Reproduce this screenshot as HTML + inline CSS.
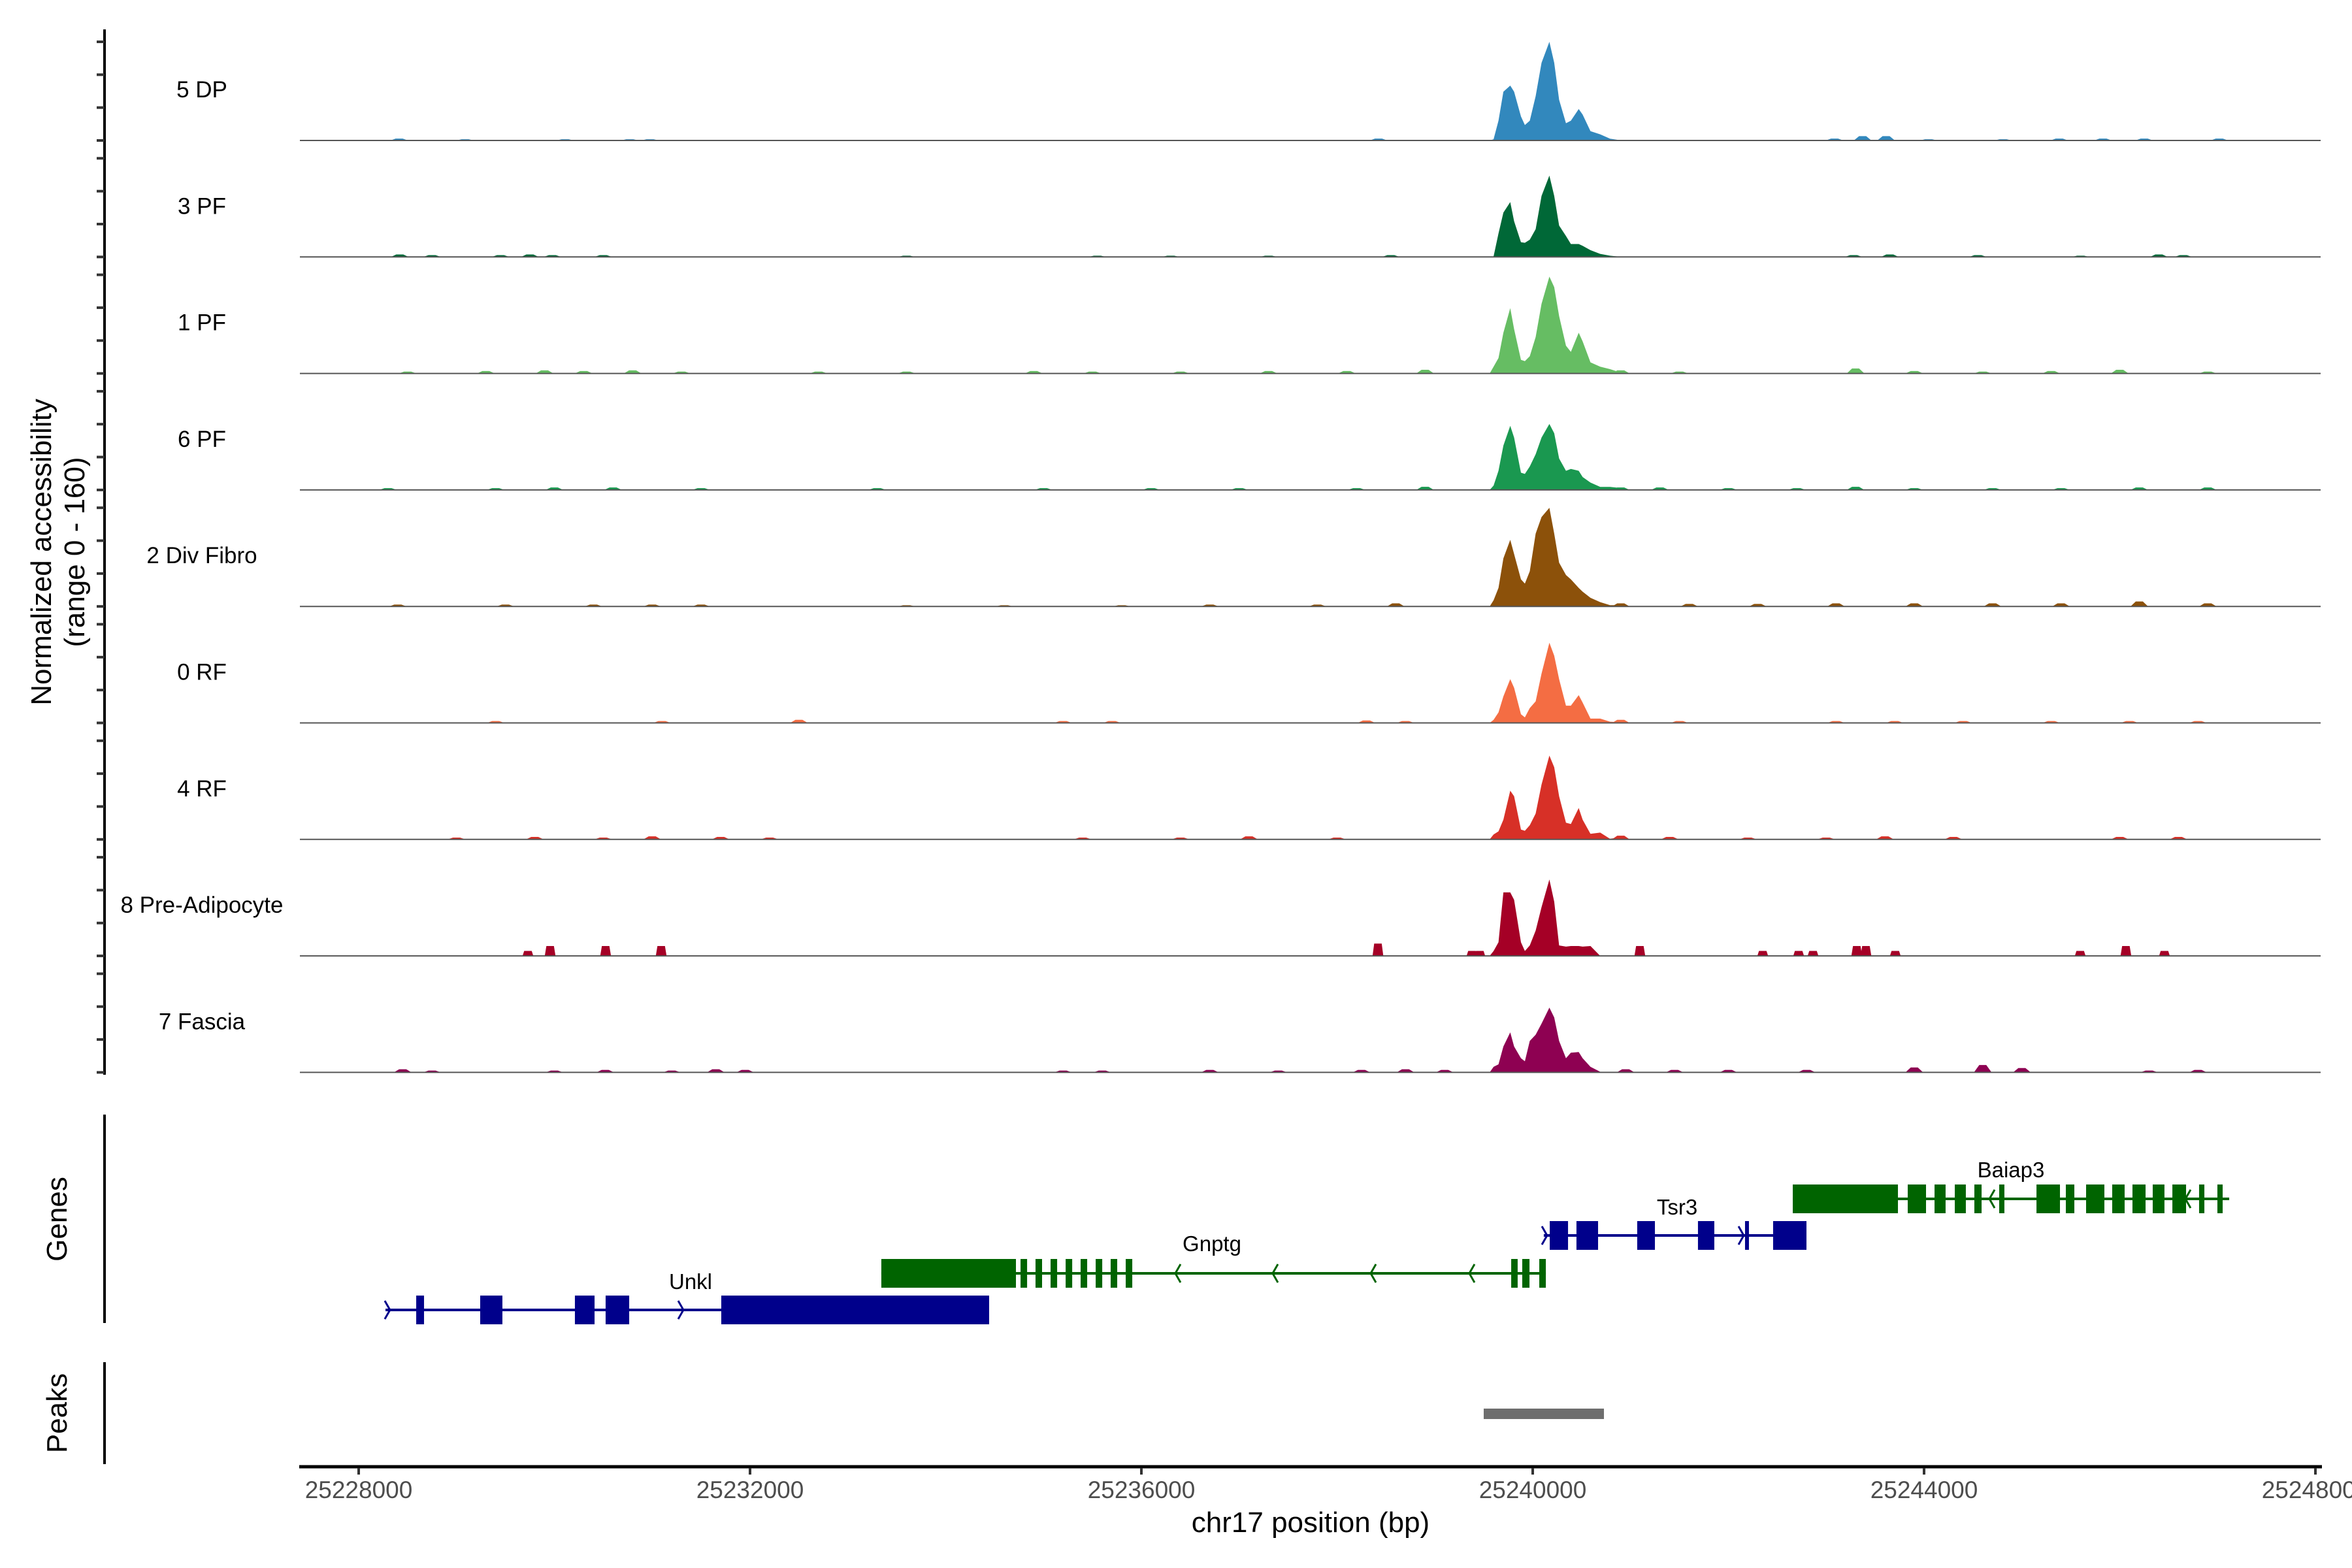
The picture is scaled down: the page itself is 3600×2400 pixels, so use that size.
<!DOCTYPE html>
<html><head><meta charset="utf-8"><style>
html,body{margin:0;padding:0;background:#fff;}
svg{display:block;font-family:"Liberation Sans",Arial,sans-serif;}
</style></head><body>
<svg id="chart" width="3600" height="2400" viewBox="0 0 3600 2400" xmlns="http://www.w3.org/2000/svg">
<rect width="3600" height="2400" fill="#fff"/>
<g id="tracks"></g>
<g id="genes"></g>
<g id="peaks"></g>
<g id="axes"></g>
<text transform="translate(78,845) rotate(-90)" text-anchor="middle" font-size="44" fill="#000">Normalized accessibility</text>
<text transform="translate(129,845) rotate(-90)" text-anchor="middle" font-size="44" fill="#000">(range 0 - 160)</text>
<text transform="translate(102,1866) rotate(-90)" text-anchor="middle" font-size="44" fill="#000">Genes</text>
<text transform="translate(102,2163) rotate(-90)" text-anchor="middle" font-size="44" fill="#000">Peaks</text>
<text x="2006" y="2345" text-anchor="middle" font-size="44" fill="#000">chr17 position (bp)</text>
</svg>
<script>
// ---- data ----
const trackNames = ["5 DP","3 PF","1 PF","6 PF","2 Div Fibro","0 RF","4 RF","8 Pre-Adipocyte","7 Fascia"];
const trackColors = ["#3288BD","#006837","#66BD63","#1A9850","#8C510A","#F46D43","#D73027","#A50026","#8E0152"];
const peakBp = [25239600,25239650,25239700,25239770,25239810,25239880,25239920,25239970,25240030,25240090,25240170,25240220,25240270,25240340,25240390,25240470,25240510,25240590,25240690,25240790,25240910];
const covDP5 = [2,32,79,89,79,39,25,32,72,126,160,126,66,28,32,51,42,15,10,3,0];
const covPF3 = [1,38,72,89,58,24,23,28,45,99,132,99,51,34,21,21,18,11,5,2,0];
const covPF1 = [11,25,66,106,72,22,20,28,59,113,157,140,93,45,35,66,52,18,11,7,1];
const covPF6 = [7,31,72,104,85,28,26,38,58,85,107,92,51,31,34,31,21,12,5,5,3];
const covDiv2 = [10,30,78,108,85,44,37,57,118,145,160,118,71,51,44,30,24,14,7,2,2];
const covRF0 = [5,17,43,71,57,14,9,24,35,80,130,109,71,28,28,45,33,7,7,2,1];
const covRF4 = [8,13,32,79,70,16,14,23,42,89,136,117,70,27,25,51,32,9,11,1,4];
const covPre8 = [8,22,103,103,91,22,8,17,41,79,124,88,17,15,16,16,15,16,0,0,0];
const covFas7 = [9,13,42,65,42,23,18,51,61,79,105,89,51,23,32,33,23,9,1,0,0];
const coverage = [covDP5,covPF3,covPF1,covPF6,covDiv2,covRF0,covRF4,covPre8,covFas7];
// background bumps: centre bp and height per track
const bumpBpDP5 = [25228414,25229088,25230110,25230771,25230978,25238424,25243085,25243372,25243612,25244046,25244808,25245382,25245829,25246250,25247018];
const bumpHDP5 = [3,2,2,2,2,3,3,7,7,2,2,3,3,3,3];
const bumpBpPF3 = [25228420,25228750,25229450,25229750,25229980,25230500,25233600,25235550,25236300,25237300,25238550,25243280,25243650,25244550,25245600,25246400,25246650];
const bumpHPF3 = [4,3,3,4,3,3,2,2,2,2,3,3,4,3,2,4,3];
const bumpBpPF1 = [25228500,25229300,25229900,25230300,25230800,25231300,25232700,25233600,25234900,25235500,25236400,25237300,25238100,25238900,25240900,25241500,25243300,25243900,25244600,25245300,25246000,25246900];
const bumpHPF1 = [3,4,5,4,5,3,3,3,4,3,3,4,4,6,5,3,8,4,3,4,6,3];
const bumpBpPF6 = [25228300,25229400,25230000,25230600,25231500,25233300,25235000,25236100,25237000,25238200,25238900,25240900,25241300,25242000,25242700,25243300,25243900,25244700,25245400,25246200,25246900];
const bumpHPF6 = [3,3,4,4,3,3,3,3,3,3,5,4,4,3,3,5,3,3,3,4,4];
const bumpBpDiv2 = [25228400,25229500,25230400,25231000,25231500,25233600,25234600,25235800,25236700,25237800,25238600,25240900,25241600,25242300,25243100,25243900,25244700,25245400,25246200,25246900];
const bumpHDiv2 = [3,3,3,3,3,2,2,2,3,3,5,5,4,4,5,5,5,5,8,5];
const bumpBpRF0 = [25229400,25231100,25232500,25235200,25235700,25238300,25238700,25240900,25241500,25243100,25243700,25244400,25245300,25246100,25246800];
const bumpHRF0 = [3,3,5,3,3,4,3,5,3,3,3,3,3,3,3];
const bumpBpRF4 = [25229000,25229800,25230500,25231000,25231700,25232200,25235400,25236400,25237100,25238000,25240900,25241400,25242200,25243000,25243600,25244300,25246000,25246600];
const bumpHRF4 = [3,4,3,5,4,3,3,3,5,3,6,4,3,3,5,4,4,4];
const bumpBpPre8 = [25229730,25229957,25230524,25231092,25238418,25239379,25239459,25241095,25242351,25242718,25242865,25243312,25243406,25243706,25245596,25246063,25246457];
const bumpHPre8 = [8,16,16,16,20,8,8,16,8,8,8,16,16,8,8,16,8];
const bumpBpFas7 = [25228450,25228750,25230000,25230520,25231200,25231650,25231950,25235200,25235600,25236700,25237400,25238250,25238700,25239100,25240950,25241450,25242000,25242800,25243900,25244600,25245000,25246300,25246800];
const bumpHFas7 = [5,3,3,4,3,5,4,3,3,4,3,4,5,4,5,4,4,4,8,12,7,3,4];
const bumpBp = [bumpBpDP5,bumpBpPF3,bumpBpPF1,bumpBpPF6,bumpBpDiv2,bumpBpRF0,bumpBpRF4,bumpBpPre8,bumpBpFas7];
const bumpH = [bumpHDP5,bumpHPF3,bumpHPF1,bumpHPF6,bumpHDiv2,bumpHRF0,bumpHRF4,bumpHPre8,bumpHFas7];
const xTicks = [25228000,25232000,25236000,25240000,25244000,25248000];
const xTickLabels = ["25228000","25232000","25236000","25240000","25244000","25248000"];
// genes
const geneNames = ["Unkl","Gnptg","Tsr3","Baiap3"];
const geneStrand = ["+","-","+","-"];
const geneStart = [25228274,25233342,25240113,25242658];
const geneEnd = [25234444,25240134,25242798,25247119];
const exonStartUnkl = [25228588,25229242,25230210,25230524,25231706];
const exonEndUnkl = [25228668,25229469,25230411,25230765,25234444];
const exonStartGnptg = [25233342,25234765,25234918,25235072,25235226,25235379,25235533,25235686,25235840,25239780,25239893,25240067];
const exonEndGnptg = [25234718,25234832,25234985,25235139,25235293,25235446,25235600,25235753,25235907,25239846,25239967,25240134];
const exonStartTsr3 = [25240174,25240447,25241068,25241689,25242170,25242457];
const exonEndTsr3 = [25240361,25240668,25241249,25241856,25242210,25242798];
const exonStartBaiap3 = [25242658,25243833,25244107,25244314,25244514,25244768,25245149,25245449,25245656,25245923,25246130,25246337,25246538,25246811,25246998];
const exonEndBaiap3 = [25243733,25244020,25244220,25244427,25244588,25244821,25245389,25245536,25245843,25246050,25246264,25246457,25246678,25246865,25247052];
const arrowsUnkl = [25228300,25231299];
const arrowsGnptg = [25236367,25237362,25238364,25239372];
const arrowsTsr3 = [25240127,25242137];
const arrowsBaiap3 = [25244688,25246691];
const exonStarts = [exonStartUnkl,exonStartGnptg,exonStartTsr3,exonStartBaiap3];
const exonEnds = [exonEndUnkl,exonEndGnptg,exonEndTsr3,exonEndBaiap3];
const geneArrows = [arrowsUnkl,arrowsGnptg,arrowsTsr3,arrowsBaiap3];
const peakStart = [25239499];
const peakEnd = [25240728];

// ---- layout ----
const NS = "http://www.w3.org/2000/svg";
const X0 = 549, PXPERBP = 2995/20000;
function xs(bp){ return X0 + (bp - 25228000) * PXPERBP; }
const trackBase0 = 215, trackStep = 178.3, trackH = 151, yMax = 160;
function ys(t, v){ return trackBase0 + t*trackStep - Math.min(v, yMax+5) / yMax * trackH; }
function mk(tag, attrs, parent){ const e = document.createElementNS(NS, tag); for (const k in attrs) e.setAttribute(k, attrs[k]); parent.appendChild(e); return e; }

const gT = document.getElementById('tracks');
const gA = document.getElementById('axes');
const gG = document.getElementById('genes');
const gP = document.getElementById('peaks');

let ax = mk('line', {x1:160,y1:45,x2:160,y2:1645,stroke:'#000','stroke-width':4}, gA);



for (let t = 0; t < trackNames.length; t++) {
  const base = trackBase0 + t*trackStep;
  const g = mk('g', {}, gT);
  
  
  const vals = coverage[t];
  let d = 'M' + xs(peakBp[0]-40) + ',' + base;
  for (let i = 0; i < peakBp.length; i++) d += ' L' + xs(peakBp[i]).toFixed(1) + ',' + ys(t, vals[i]).toFixed(1);
  d += ' L' + xs(peakBp[peakBp.length-1]+30).toFixed(1) + ',' + base + ' Z';
  const area = mk('path', {d:d, fill:trackColors[t]}, g);
  
  
  const bb = bumpBp[t], bh = bumpH[t];
  for (let i = 0; i < bb.length; i++) {
    const blocky = (t === 7);
    const w = blocky ? 55 : 90;
    const y = ys(t, bh[i]);
    const pd = blocky
      ? 'M'+xs(bb[i]-w)+','+base+' L'+xs(bb[i]-w*0.7)+','+y+' L'+xs(bb[i]+w*0.7)+','+y+' L'+xs(bb[i]+w)+','+base+' Z'
      : 'M'+xs(bb[i]-w)+','+base+' L'+xs(bb[i]-w*0.4)+','+y+' L'+xs(bb[i]+w*0.4)+','+y+' L'+xs(bb[i]+w)+','+base+' Z';
    const b = mk('path', {d:pd, fill:trackColors[t]}, g);
    
    
  }
  const bl = mk('line', {x1:459,y1:base,x2:3552,y2:base,stroke:'#555','stroke-width':2}, g);
  
  
  for (let k = 0; k < 4; k++) {
    const ty = base - k*trackH/3;
    const tk = mk('line', {x1:148,y1:ty,x2:160,y2:ty,stroke:'#333','stroke-width':4}, gA);
    
    
  }
  const lab = mk('text', {x:309,y:base-66,'text-anchor':'middle','font-size':35,fill:'#000'}, g);
  lab.textContent = trackNames[t];
  
  
}

let ga = mk('line', {x1:160,y1:1706,x2:160,y2:2025,stroke:'#000','stroke-width':4}, gA);


let pa = mk('line', {x1:160,y1:2085,x2:160,y2:2241,stroke:'#000','stroke-width':4}, gA);



const geneY = [2005,1949,1891,1835];
const geneColor = ["#00008B","#006400","#00008B","#006400"];
const labelY = [1973,1915,1859,1802];
const labelX = [1057,1855,2567,3078];
for (let gi = 0; gi < geneNames.length; gi++) {
  const g = mk('g', {}, gG);
  
  
  const y = geneY[gi], c = geneColor[gi];
  const ln = mk('line', {x1:xs(geneStart[gi]),y1:y,x2:xs(geneEnd[gi]),y2:y,stroke:c,'stroke-width':4}, g);
  
  
  const es = exonStarts[gi], ee = exonEnds[gi];
  for (let i = 0; i < es.length; i++) {
    const x1 = xs(es[i]), x2 = xs(ee[i]);
    const r = mk('rect', {x:x1,y:y-22,width:Math.max(4,x2-x1),height:44,fill:c}, g);
    
    
  }
  const ar = geneArrows[gi];
  for (let i = 0; i < ar.length; i++) {
    const x = xs(ar[i]);
    const dir = geneStrand[gi] === '+' ? 1 : -1;
    const p = mk('polyline', {points:(x-5*dir)+','+(y-14)+' '+(x+3*dir)+','+y+' '+(x-5*dir)+','+(y+14),fill:'none',stroke:c,'stroke-width':3}, g);
    
    
  }
  const tl = mk('text', {x:labelX[gi],y:labelY[gi],'text-anchor':'middle','font-size':33,fill:'#000'}, g);
  tl.textContent = geneNames[gi];
  
  
}

for (let i = 0; i < peakStart.length; i++) {
  const r = mk('rect', {x:xs(peakStart[i]),y:2156,width:xs(peakEnd[i])-xs(peakStart[i]),height:16,fill:'#6E6E6E'}, gP);
  
  
}

let xa = mk('line', {x1:458,y1:2245,x2:3554,y2:2245,stroke:'#000','stroke-width':5}, gA);


for (let i = 0; i < xTicks.length; i++) {
  const x = xs(xTicks[i]);
  const tk = mk('line', {x1:x,y1:2247,x2:x,y2:2257,stroke:'#333','stroke-width':4}, gA);
  
  
  const tl = mk('text', {x:x,y:2293,'text-anchor':'middle','font-size':37,fill:'#4D4D4D'}, gA);
  tl.textContent = xTickLabels[i];
  
  
}
</script>
</body></html>
